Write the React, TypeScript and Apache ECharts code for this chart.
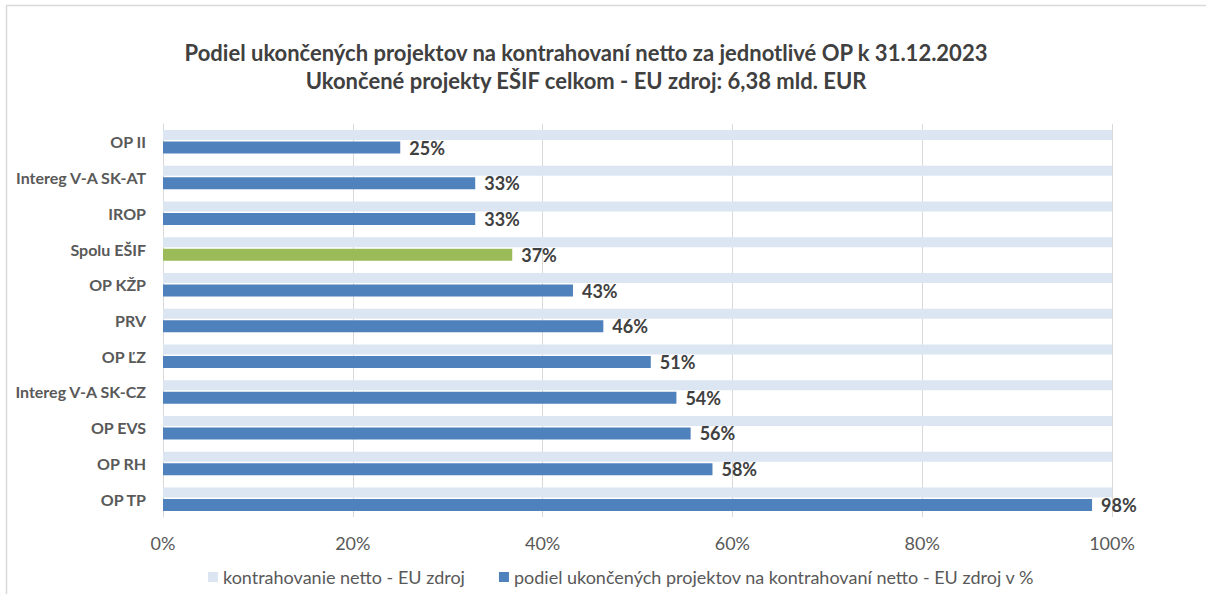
import React, { useEffect, useRef } from "react";
import * as echarts from "echarts";

const categories = [
  "OP II",
  "Intereg V-A SK-AT",
  "IROP",
  "Spolu EŠIF",
  "OP KŽP",
  "PRV",
  "OP ĽZ",
  "Intereg V-A SK-CZ",
  "OP EVS",
  "OP RH",
  "OP TP",
];
const contractedShare = [100, 100, 100, 100, 100, 100, 100, 100, 100, 100, 100];
const completedShare = [25.0, 32.9, 32.9, 36.8, 43.2, 46.4, 51.4, 54.1, 55.6, 57.9, 97.9];
const highlightCategory = "Spolu EŠIF";
const xTicks = [0, 20, 40, 60, 80, 100];
const titleLines = [
  "Podiel ukončených projektov na kontrahovaní netto za jednotlivé OP k 31.12.2023",
  "Ukončené projekty EŠIF celkom - EU zdroj: 6,38 mld. EUR",
];
const seriesNames = [
  "kontrahovanie netto - EU zdroj",
  "podiel ukončených projektov na kontrahovaní netto - EU zdroj v %",
];

const FONT = "Lato, 'Open Sans', sans-serif";

export default function App() {
  const ref = useRef<HTMLDivElement>(null);
  useEffect(() => {
    if (!ref.current) return;
    const chart = echarts.init(ref.current, undefined, { renderer: "svg" });
    chart.setOption({
      animation: false,
      backgroundColor: "#ffffff",
      textStyle: { fontFamily: FONT },
      title: {
        text: titleLines.join("\n"),
        left: 581,
        top: 33,
        textAlign: "center",
        textStyle: {
          fontFamily: FONT,
          fontSize: 22,
          fontWeight: "bold",
          color: "#404040",
          lineHeight: 28,
        },
      },
      graphic: [
        {
          type: "rect",
          shape: { x: 6.5, y: 5.5, width: 1210, height: 600 },
          style: { fill: "none", stroke: "#d9d9d9", lineWidth: 1.5 },
          silent: true,
        },
      ],
      legend: {
        left: 203,
        top: 563,
        itemWidth: 10,
        itemHeight: 10,
        itemGap: 34,
        icon: "rect",
        textStyle: { fontFamily: FONT, fontSize: 18, color: "#595959" },
        data: seriesNames,
      },
      grid: { left: 163, right: 94, top: 124, bottom: 77, containLabel: false },
      xAxis: {
        type: "value",
        min: 0,
        max: 100,
        interval: 20,
        axisLine: { show: false },
        axisTick: { show: false },
        splitLine: { show: true, lineStyle: { color: "#d9d9d9", width: 1 } },
        axisLabel: {
          formatter: (v: number) => (xTicks.includes(v) ? v + "%" : ""),
          fontFamily: FONT,
          fontSize: 18,
          color: "#595959",
          margin: 17,
        },
      },
      yAxis: {
        type: "category",
        inverse: true,
        data: categories,
        axisLine: { show: true, lineStyle: { color: "#d9d9d9", width: 1 } },
        axisTick: { show: false },
        axisLabel: {
          fontFamily: FONT,
          fontSize: 16,
          fontWeight: "bold",
          color: "#595959",
          margin: 17,
        },
      },
      series: [
        {
          name: seriesNames[0],
          type: "bar",
          data: contractedShare,
          barWidth: 10,
          barGap: "15%",
          itemStyle: { color: "#dce6f2" },
          silent: true,
        },
        {
          name: seriesNames[1],
          type: "bar",
          barWidth: 12,
          data: completedShare.map((v, i) =>
            categories[i] === highlightCategory
              ? { value: v, itemStyle: { color: "#9bbb59" } }
              : v
          ),
          itemStyle: { color: "#4f81bd" },
          label: {
            show: true,
            position: "right",
            distance: 9,
            formatter: (p: any) => Math.round(p.value) + "%",
            fontFamily: FONT,
            fontSize: 18,
            fontWeight: "bold",
            color: "#404040",
          },
        },
      ],
    });
    return () => chart.dispose();
  }, []);
  return (
    <div
      ref={ref}
      style={{ position: "fixed", left: 0, top: 0, width: 1206, height: 594 }}
    />
  );
}
